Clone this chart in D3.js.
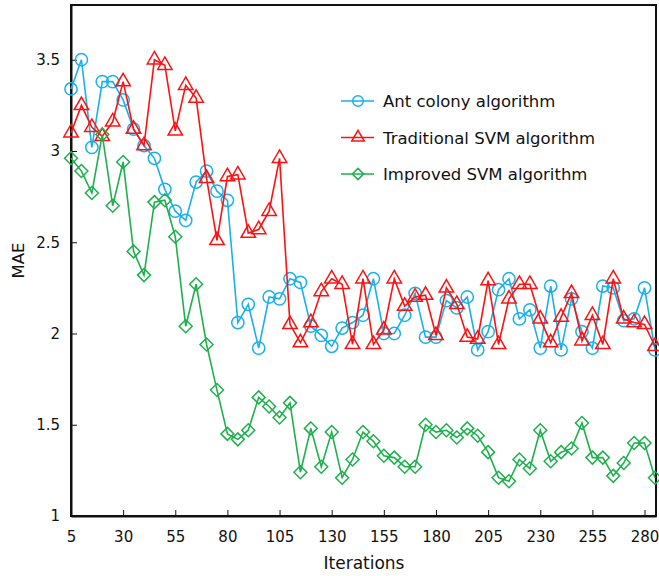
<!DOCTYPE html>
<html>
<head>
<meta charset="utf-8">
<script src="https://cdn.jsdelivr.net/npm/d3@7/dist/d3.min.js"></script>
<style>
  html, body { margin: 0; padding: 0; background: #fff; }
  svg { display: block; }
  text { font-family: "DejaVu Sans", Verdana, sans-serif; fill: #111; }
</style>
</head>
<body>
<svg id="chart" width="659" height="576"></svg>
<script>
// Iteration counts (every 5 iterations)
const iterations = d3.range(5, 290, 5);

// MAE per iteration
const antColony = [
  3.34, 3.50, 3.02, 3.38, 3.38, 3.28, 3.12, 3.03, 2.96, 2.79,
  2.67, 2.62, 2.83, 2.89, 2.78, 2.73, 2.06, 2.16, 1.92, 2.20,
  2.19, 2.30, 2.28, 2.04, 1.99, 1.93, 2.03, 2.06, 2.10, 2.30,
  2.00, 2.00, 2.10, 2.22, 1.98, 1.98, 2.18, 2.14, 2.20, 1.91,
  2.01, 2.24, 2.30, 2.08, 2.13, 1.92, 2.26, 1.91, 2.19, 2.01,
  1.92, 2.26, 2.25, 2.07, 2.08, 2.25, 1.91
];
const traditionalSVM = [
  3.10, 3.25, 3.13, 3.08, 3.16, 3.38, 3.12, 3.03, 3.50, 3.47,
  3.11, 3.36, 3.29, 2.85, 2.51, 2.86, 2.87, 2.55, 2.57, 2.67,
  2.96, 2.05, 1.95, 2.06, 2.23, 2.30, 2.27, 1.94, 2.30, 1.94,
  2.02, 2.30, 2.15, 2.20, 2.21, 1.99, 2.25, 2.16, 1.98, 1.97,
  2.29, 1.94, 2.19, 2.27, 2.27, 2.08, 1.95, 2.09, 2.22, 1.96,
  2.10, 1.94, 2.30, 2.08, 2.06, 2.05, 1.93
];
const improvedSVM = [
  2.96, 2.89, 2.77, 3.09, 2.70, 2.94, 2.45, 2.32, 2.72, 2.73,
  2.53, 2.04, 2.27, 1.94, 1.69, 1.45, 1.42, 1.47, 1.65, 1.60,
  1.54, 1.62, 1.24, 1.48, 1.27, 1.46, 1.21, 1.31, 1.46, 1.41,
  1.33, 1.32, 1.27, 1.27, 1.50, 1.46, 1.47, 1.43, 1.48, 1.44,
  1.35, 1.21, 1.19, 1.31, 1.26, 1.47, 1.30, 1.35, 1.37, 1.51,
  1.32, 1.32, 1.22, 1.29, 1.40, 1.40, 1.21
];

const seriesNames = ["Ant colony algorithm", "Traditional SVM algorithm", "Improved SVM algorithm"];
const xTicks = [5, 30, 55, 80, 105, 130, 155, 180, 205, 230, 255, 280];
const yTicks = [1, 1.5, 2, 2.5, 3, 3.5];
const yTickLabels = ["1", "1.5", "2", "2.5", "3", "3.5"];

// Square diamond (equal width and height), size = area
const squareDiamond = {
  draw(context, size) {
    const r = Math.sqrt(size / 2);
    context.moveTo(0, -r);
    context.lineTo(r, 0);
    context.lineTo(0, r);
    context.lineTo(-r, 0);
    context.closePath();
  }
};

const series = [
  { name: seriesNames[0], values: antColony, color: "#1ab0ea", symbol: d3.symbolCircle, size: 118 },
  { name: seriesNames[1], values: traditionalSVM, color: "#ff1111", symbol: d3.symbolTriangle, size: 90 },
  { name: seriesNames[2], values: improvedSVM, color: "#1fb04e", symbol: squareDiamond, size: 84 }
];

const svg = d3.select("#chart");
const margin = { left: 71, right: 3, top: 5, bottom: 60 };
const W = 659, H = 576;

const x = d3.scaleLinear().domain([5, 285.5]).range([margin.left, W - margin.right]);
const y = d3.scaleLinear().domain([1, 3.8]).range([H - margin.bottom, margin.top]);

// Frame
svg.append("rect")
  .attr("x", x.range()[0]).attr("y", y.range()[1])
  .attr("width", x.range()[1] - x.range()[0])
  .attr("height", y.range()[0] - y.range()[1])
  .attr("fill", "none").attr("stroke", "#111").attr("stroke-width", 2);

// Axes with inward ticks
const xAxis = svg.append("g")
  .attr("transform", `translate(0,${y.range()[0]})`)
  .call(d3.axisBottom(x).tickValues(xTicks).tickSizeInner(-6).tickSizeOuter(0).tickPadding(15));
const yAxis = svg.append("g")
  .attr("transform", `translate(${x.range()[0]},0)`)
  .call(d3.axisLeft(y).tickValues(yTicks).tickFormat((d, i) => yTickLabels[i])
        .tickSizeInner(-6).tickSizeOuter(0).tickPadding(11));
[xAxis, yAxis].forEach(g => {
  g.select(".domain").attr("stroke", "#111").attr("stroke-width", 2);
  g.selectAll(".tick line").attr("stroke", "#111").attr("stroke-width", 1);
  g.selectAll(".tick text")
    .attr("font-family", "DejaVu Sans, Verdana, sans-serif")
    .attr("font-size", 15).attr("fill", "#111");
});

// Axis titles
svg.append("text")
  .attr("x", 364)
  .attr("y", 569)
  .attr("text-anchor", "middle")
  .attr("font-size", 17)
  .text("Iterations");
svg.append("text")
  .attr("transform", `translate(24,${(y.range()[0] + y.range()[1]) / 2}) rotate(-90)`)
  .attr("text-anchor", "middle")
  .attr("font-size", 16.5)
  .text("MAE");

// Series lines and markers
const line = d3.line().x((d, i) => x(iterations[i])).y(d => y(d));
series.forEach(s => {
  const g = svg.append("g");
  g.append("path")
    .datum(s.values)
    .attr("d", line)
    .attr("fill", "none")
    .attr("stroke", s.color)
    .attr("stroke-width", 1.6);
  g.selectAll("path.marker")
    .data(s.values)
    .join("path")
    .attr("class", "marker")
    .attr("transform", (d, i) => `translate(${x(iterations[i])},${y(d)})`)
    .attr("d", d3.symbol().type(s.symbol).size(s.size))
    .attr("fill", "none")
    .attr("stroke", s.color)
    .attr("stroke-width", 1.5);
});

// Legend
const legend = svg.append("g").attr("transform", "translate(341,101)");
series.forEach((s, i) => {
  const row = legend.append("g").attr("transform", `translate(0,${i * 36.5})`);
  row.append("line").attr("x1", 0).attr("x2", 33).attr("y1", 0).attr("y2", 0)
    .attr("stroke", s.color).attr("stroke-width", 1.6);
  row.append("path").attr("transform", "translate(17,0)")
    .attr("d", d3.symbol().type(s.symbol).size(s.size * 0.75))
    .attr("fill", "none").attr("stroke", s.color).attr("stroke-width", 1.5);
  row.append("text").attr("x", 42).attr("y", 6)
    .attr("font-size", 16.5)
    .text(s.name);
});
</script>
</body>
</html>
